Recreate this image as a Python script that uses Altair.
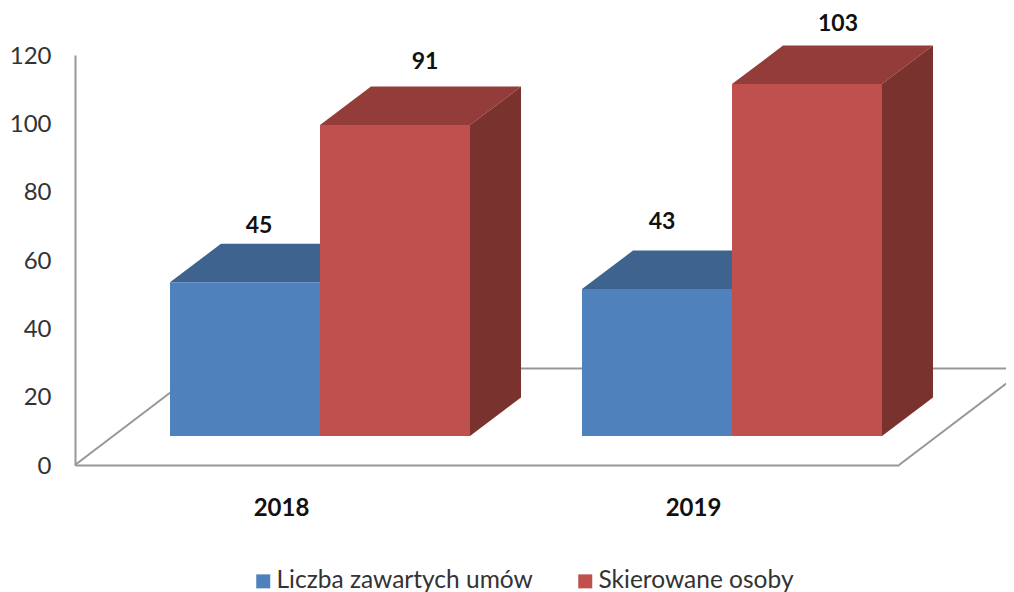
import altair as alt
import pandas as pd

years = [2018, 2019]
series_names = ["Liczba zawartych umów", "Skierowane osoby"]
umowy = [45, 43]
osoby = [91, 103]
y_ticks = [0, 20, 40, 60, 80, 100, 120]

FONT = "Lato"
PX_X = 412.0              # pixels per category
PX_Y = 410.0 / 120.0      # pixels per value unit
DX, DY = 51 / PX_X, 38.5 / PX_Y      # box depth
BASE = 29 / PX_Y          # front plane lifted from the floor
BAR_W = 150 / PX_X
LEFT = -111 / PX_X        # first bar's left edge, from the category centre
FLOOR_DX, FLOOR_DY = 127 / PX_X, 96.5 / PX_Y

front_col = dict(zip(series_names, ["#4F81BD", "#C0504D"]))
top_col = dict(zip(series_names, ["#3E638F", "#943C39"]))
side_col = dict(zip(series_names, ["#335275", "#7A322F"]))
# manual label placements in the source chart (pixels from the bar's left edge / top back edge)
nudge = {("Liczba zawartych umów", 2018): (89, 18), ("Skierowane osoby", 2018): (105, 25),
         ("Liczba zawartych umów", 2019): (80, 29), ("Skierowane osoby", 2019): (106, 22)}

fronts, faces, labels = [], [], []
for s_i, (name, vals) in enumerate(zip(series_names, [umowy, osoby])):
    for year, v in zip(years, vals):
        x0 = year + LEFT + s_i * BAR_W
        x1 = x0 + BAR_W
        top = BASE + v
        fronts.append(dict(series=name, x=x0, x2=x1, y=BASE, y2=top))
        tid = f"t{name}{year}"
        sid = f"s{name}{year}"
        for fx, fy, fy2 in [(x0, top, top), (x0 + DX, top, top + DY),
                            (x1, top, top + DY), (x1 + DX, top + DY, top + DY)]:
            faces.append(dict(id=tid, col=top_col[name], x=fx, y=fy, y2=fy2))
        for fx, fy, fy2 in [(x1, BASE, top), (x1 + DX, BASE + DY, top + DY)]:
            faces.append(dict(id=sid, col=side_col[name], x=fx, y=fy, y2=fy2))
        nx, ny = nudge[(name, year)]
        labels.append(dict(x=x0 + nx / PX_X, y=top + DY + ny / PX_Y, v=v))

floor = []
for seg, pts in {
    "left": [(2017.5, 0), (2017.5 + FLOOR_DX, FLOOR_DY)],
    "right": [(2019.5, 0), (2019.5 + FLOOR_DX, FLOOR_DY)],
    "back": [(2017.5 + FLOOR_DX, FLOOR_DY), (2019.5 + FLOOR_DX, FLOOR_DY)],
}.items():
    for px, py in pts:
        floor.append(dict(seg=seg, x=px, y=py))

xs = alt.Scale(domain=[2017.5, 2019.5], nice=False, zero=False)
ys = alt.Scale(domain=[0, 120], nice=False, zero=False)
AX_COL = "#979797"

x_axis = alt.Axis(values=years, format="d", title=None, grid=False, ticks=False,
                  domainColor=AX_COL, domainWidth=2, labelFont=FONT, labelFontSize=24,
                  labelFontWeight="bold", labelColor="#111111", labelPadding=31, labelAngle=0)
y_axis = alt.Axis(values=y_ticks, title=None, grid=False, ticks=False,
                  domainColor=AX_COL, domainWidth=2, labelFont=FONT, labelFontSize=24,
                  labelColor="#333333", labelPadding=24, labelOffset=1)

floor_layer = alt.Chart(pd.DataFrame(floor)).mark_line(color=AX_COL, strokeWidth=2).encode(
    x=alt.X("x:Q", scale=xs, axis=x_axis),
    y=alt.Y("y:Q", scale=ys, axis=y_axis),
    detail="seg:N",
)

face_layer = alt.Chart(pd.DataFrame(faces)).mark_area(interpolate="linear", opacity=1).encode(
    x=alt.X("x:Q", scale=xs),
    y=alt.Y("y:Q", scale=ys, stack=None),
    y2="y2:Q",
    detail="id:N",
    color=alt.Color("col:N", scale=None),
)

front_layer = alt.Chart(pd.DataFrame(fronts)).mark_bar(opacity=1).encode(
    x=alt.X("x:Q", scale=xs),
    x2="x2:Q",
    y=alt.Y("y:Q", scale=ys),
    y2="y2:Q",
    color=alt.Color(
        "series:N",
        scale=alt.Scale(domain=series_names, range=[front_col[n] for n in series_names]),
        legend=alt.Legend(
            title=None, orient="none", direction="horizontal", legendX=176, legendY=514,
            symbolType="square", symbolSize=196, symbolStrokeWidth=0, symbolOpacity=1,
            labelFont=FONT, labelFontSize=24.5, labelColor="#333333", labelOffset=1,
            columnPadding=40, labelLimit=400,
        ),
    ),
)

label_layer = alt.Chart(pd.DataFrame(labels)).mark_text(
    font=FONT, fontSize=23, fontWeight="bold", color="#111111", baseline="middle", align="center"
).encode(
    x=alt.X("x:Q", scale=xs),
    y=alt.Y("y:Q", scale=ys),
    text=alt.Text("v:Q"),
)

chart = (
    alt.layer(floor_layer, face_layer, front_layer, label_layer)
    .resolve_scale(color="independent")
    .properties(
        width=824, height=410,
        autosize=alt.AutoSizeParams(type="none"),
        padding={"left": 67, "top": 47, "right": 107, "bottom": 127},
        background="white",
    )
    .configure_view(stroke=None)
)

chart.save("out.html", embed_options={"renderer": "svg", "actions": False})
